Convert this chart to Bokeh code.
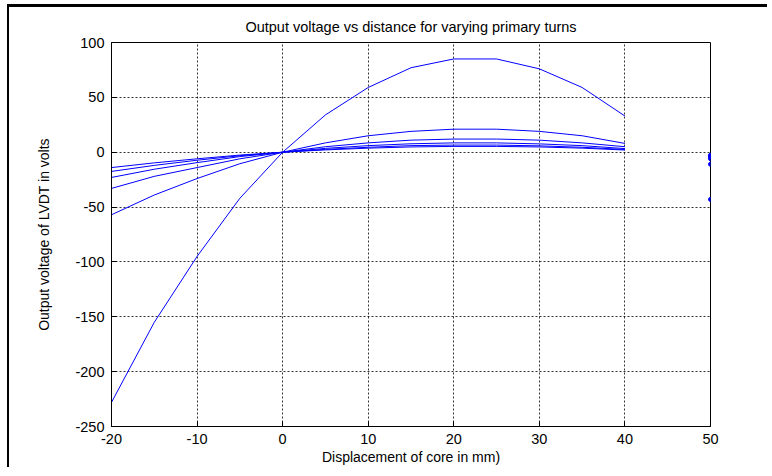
from bokeh.plotting import figure
from bokeh.models import FixedTicker, Range1d, InlineStyleSheet
from bokeh.embed import file_html
from bokeh.resources import INLINE

# Displacement of core (mm)
x = [-20, -15, -10, -5, 0, 5, 10, 15, 20, 25, 30, 35, 40]

# Output voltage curves for varying primary turns
v1 = [-228, -155, -95, -42, 0, 34, 59, 77, 85, 85, 76, 59, 33]
v2 = [-57, -39, -24, -10.5, 0, 8.5, 15, 19, 21, 21, 19, 15, 8]
v3 = [-33, -22, -14, -6, 0, 5, 8.5, 11, 12, 12, 11, 8.5, 5]
v4 = [-23, -15.5, -9.5, -4, 0, 3.5, 6, 7.7, 8.5, 8.5, 7.6, 6, 3.3]
v5 = [-17.5, -12, -7.3, -3.2, 0, 2.6, 4.5, 6, 6.5, 6.5, 5.8, 4.5, 2.5]
v6 = [-14, -9.7, -6, -2.6, 0, 2.1, 3.7, 4.8, 5.3, 5.3, 4.8, 3.7, 2]

# isolated points at x = 50
dot_x = [50, 50, 50, 50, 50, 50]
dot_y = [-43, -11, -6, -4.3, -3.3, -2.7]

x_ticks = [-20, -10, 0, 10, 20, 30, 40, 50]
y_ticks = [-250, -200, -150, -100, -50, 0, 50, 100]

FONT = "Liberation Sans"
W, H = 760, 463

p = figure(width=W, height=H, output_backend="svg", toolbar_location=None,
           x_range=Range1d(-20, 50), y_range=Range1d(-250, 100),
           title="Output voltage vs distance for varying primary turns",
           min_border_left=102, min_border_right=59, min_border_top=35,
           min_border_bottom=44)

p.title.align = "center"
p.title.text_font = FONT
p.title.text_font_size = "14.5px"
p.title.text_font_style = "normal"
p.title.text_color = "black"
p.title.standoff = 16

p.outline_line_color = "black"
p.outline_line_width = 1
p.outline_line_alpha = 1

for ax in (p.xaxis[0], p.yaxis[0]):
    ax.major_tick_in = 5
    ax.major_tick_out = 0
    ax.minor_tick_in = 0
    ax.minor_tick_out = 0
    ax.major_tick_line_color = "black"
    ax.axis_line_color = "black"
    ax.major_label_text_font = FONT
    ax.major_label_text_font_size = "14.5px"
    ax.major_label_text_color = "black"
    ax.axis_label_text_font = FONT
    ax.axis_label_text_font_size = "14px"
    ax.axis_label_text_font_style = "normal"
    ax.axis_label_text_color = "black"
    ax.major_label_standoff = 7

p.xaxis[0].ticker = FixedTicker(ticks=x_ticks)
p.yaxis[0].ticker = FixedTicker(ticks=y_ticks)
p.xaxis[0].major_label_overrides = {t: str(t) for t in x_ticks}
p.yaxis[0].major_label_overrides = {t: str(t) for t in y_ticks}
p.xaxis[0].axis_label = "Displacement of core in mm)"
p.yaxis[0].axis_label = "Output voltage of LVDT in volts"
p.xaxis[0].axis_label_standoff = 2
p.yaxis[0].axis_label_standoff = 20

p.xgrid.ticker = FixedTicker(ticks=x_ticks)
p.ygrid.ticker = FixedTicker(ticks=y_ticks)
for g in (p.xgrid[0], p.ygrid[0]):
    g.grid_line_color = "black"
    g.grid_line_alpha = 0.8
    g.grid_line_dash = "2 2"
    g.grid_line_width = 1

for v in (v1, v2, v3, v4, v5, v6):
    p.line(x, v, line_color="#0000ff", line_width=1)

p.scatter(dot_x, dot_y, size=4, color="#0000ff")

# picture frame: black border along the top and left edges
p.stylesheets = [InlineStyleSheet(css=":host { border-top: 3px solid black; "
                                      "border-left: 2px solid black; "
                                      "border-right: none; border-bottom: none; "
                                      "outline: none; box-shadow: none; "
                                      "margin-top: 4px; margin-left: 7px; }")]

open("out.html", "w").write(file_html(p, INLINE))
